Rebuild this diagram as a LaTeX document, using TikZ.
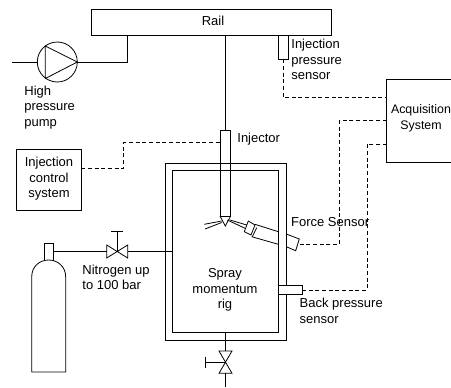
\documentclass[tikz,border=0pt]{standalone}
\usepackage{fontspec}
\setmainfont{Liberation Sans}
\tikzset{
	lbl/.style={font=\fontsize{9.75pt}{11.6pt}\selectfont, inner sep=0pt, align=left, anchor=west},
	lblc/.style={font=\fontsize{9.75pt}{11.6pt}\selectfont, inner sep=0pt, align=center},
	sig/.style={densely dashed, line width=0.55pt},
	pipe/.style={line width=0.6pt},
}
\begin{document}
\begin{tikzpicture}[x=0.75pt, y=-0.75pt, line width=0.6pt, line join=miter]
	\useasboundingbox (0, 0) rectangle (451, 387);
	%%%%% RAIL AND PUMP %%%%%
	\draw (91, 9) rectangle (331, 35);
	\node[lblc] (rail) at (213, 21) {Rail};
	\draw (57.3, 62) circle (20);
	\draw (45.3, 46) -- (77.3, 62) -- (45.3, 78.5) -- cycle;
	\draw[pipe] (12, 62) -- (37.3, 62);
	\draw[pipe] (77.3, 62) -- (127.5, 62) -- (127.5, 35);
	\node[lbl] (pump) at (24, 107.5) {High\\pressure\\pump};
	%%%%% INJECTOR %%%%%
	\draw[pipe] (225.3, 35) -- (225.3, 130.7);
	\node[lbl] (injector) at (237, 139) {Injector};
	%%%%% VESSEL %%%%%
	\draw (165, 163) rectangle (286.3, 340);
	\draw[fill=white] (172.3, 170.7) rectangle (278.3, 332);
	\draw (220, 130.7) rectangle (230.7, 216);
	\draw (220, 216) -- (225.3, 226) -- (230.7, 216);
	\node[lblc] (rig) at (225, 290) {Spray\\momentum\\rig};
	\draw (204.3, 224.3) -- (221.7, 221);
	\draw (205, 229) -- (221.7, 222.5);
	%%%%% FORCE SENSOR %%%%%
	\draw (227.3, 220) -- (245, 228.3);
	\draw (230, 220) -- (246.7, 225);
	\draw (248.3, 221) -- (255, 225) -- (251, 235) -- (244.3, 231.7) -- cycle;
	\draw (256.7, 227.7) -- (252.3, 236.7);
	\draw (255, 224.3) -- (278.3, 231.7);
	\draw (251.7, 236.7) -- (278.3, 244.3);
	\draw (286.3, 234) -- (299.3, 239) -- (295.7, 250.7) -- (286.3, 246.7);
	\node[lbl] (force) at (290.7, 222) {Force Sensor};
	%%%%% PRESSURE SENSORS %%%%%
	\draw (278.7, 35) rectangle (288.3, 59.3);
	\node[lbl] (psensor) at (291, 59.5) {Injection\\pressure\\sensor};
	\draw[fill=white] (278.3, 285) rectangle (302.7, 294.7);
	\node[lbl] (bsensor) at (299.3, 311) {Back pressure\\sensor};
	%%%%% CONTROL AND ACQUISITION %%%%%
	\draw (386.7, 79.7) rectangle (452, 162.3);
	\node[lblc, font=\fontsize{9.3pt}{11.6pt}\selectfont] (acq) at (421, 118.5) {Acquisition\\System};
	\draw (16.3, 149) rectangle (81.3, 210.3);
	\node[lblc] (ctrl) at (49, 179) {Injection\\control\\system};
	\draw[sig] (283.5, 59.3) -- (283.5, 97.7) -- (386.7, 97.7);
	\draw[sig] (386.7, 120.7) -- (339.3, 120.7) -- (339.3, 244.3) -- (298, 244.3);
	\draw[sig] (386.7, 144) -- (367, 144) -- (367, 290) -- (302.7, 290);
	\draw[sig] (81.3, 168.3) -- (123.7, 168.3) -- (123.7, 142.7) -- (220, 142.7);
	%%%%% NITROGEN %%%%%
	\draw (44.3, 260.7) -- (44.3, 243.7) -- (53, 243.7) -- (53, 260.7);
	\draw (31.7, 372) -- (65.7, 372) -- (65.7, 277) .. controls (65.7, 266) and (57, 260) .. (48.7, 260) .. controls (40, 260) and (31.7, 266) .. (31.7, 277) -- cycle;
	\draw[pipe] (53, 251.3) -- (106.7, 251.3);
	\draw (106.7, 245) -- (127.7, 258) -- (127.7, 245) -- (106.7, 258) -- cycle;
	\draw[pipe] (117, 251.3) -- (117, 231);
	\draw[pipe] (111, 231) -- (122.7, 231);
	\draw[pipe] (127.7, 251.3) -- (172.3, 251.3);
	\node[lbl] (nitrogen) at (82, 277.5) {Nitrogen up\\to 100 bar};
	%%%%% DRAIN %%%%%
	\draw[pipe] (225.3, 332) -- (225.3, 351);
	\draw (219, 351) -- (232, 373.3) -- (219, 373.3) -- (232, 351) -- cycle;
	\draw[pipe] (225.3, 362) -- (205, 362);
	\draw[pipe] (205, 356.7) -- (205, 367.7);
	\draw[pipe] (225.3, 373.3) -- (225.3, 387);
\end{tikzpicture}
\end{document}
